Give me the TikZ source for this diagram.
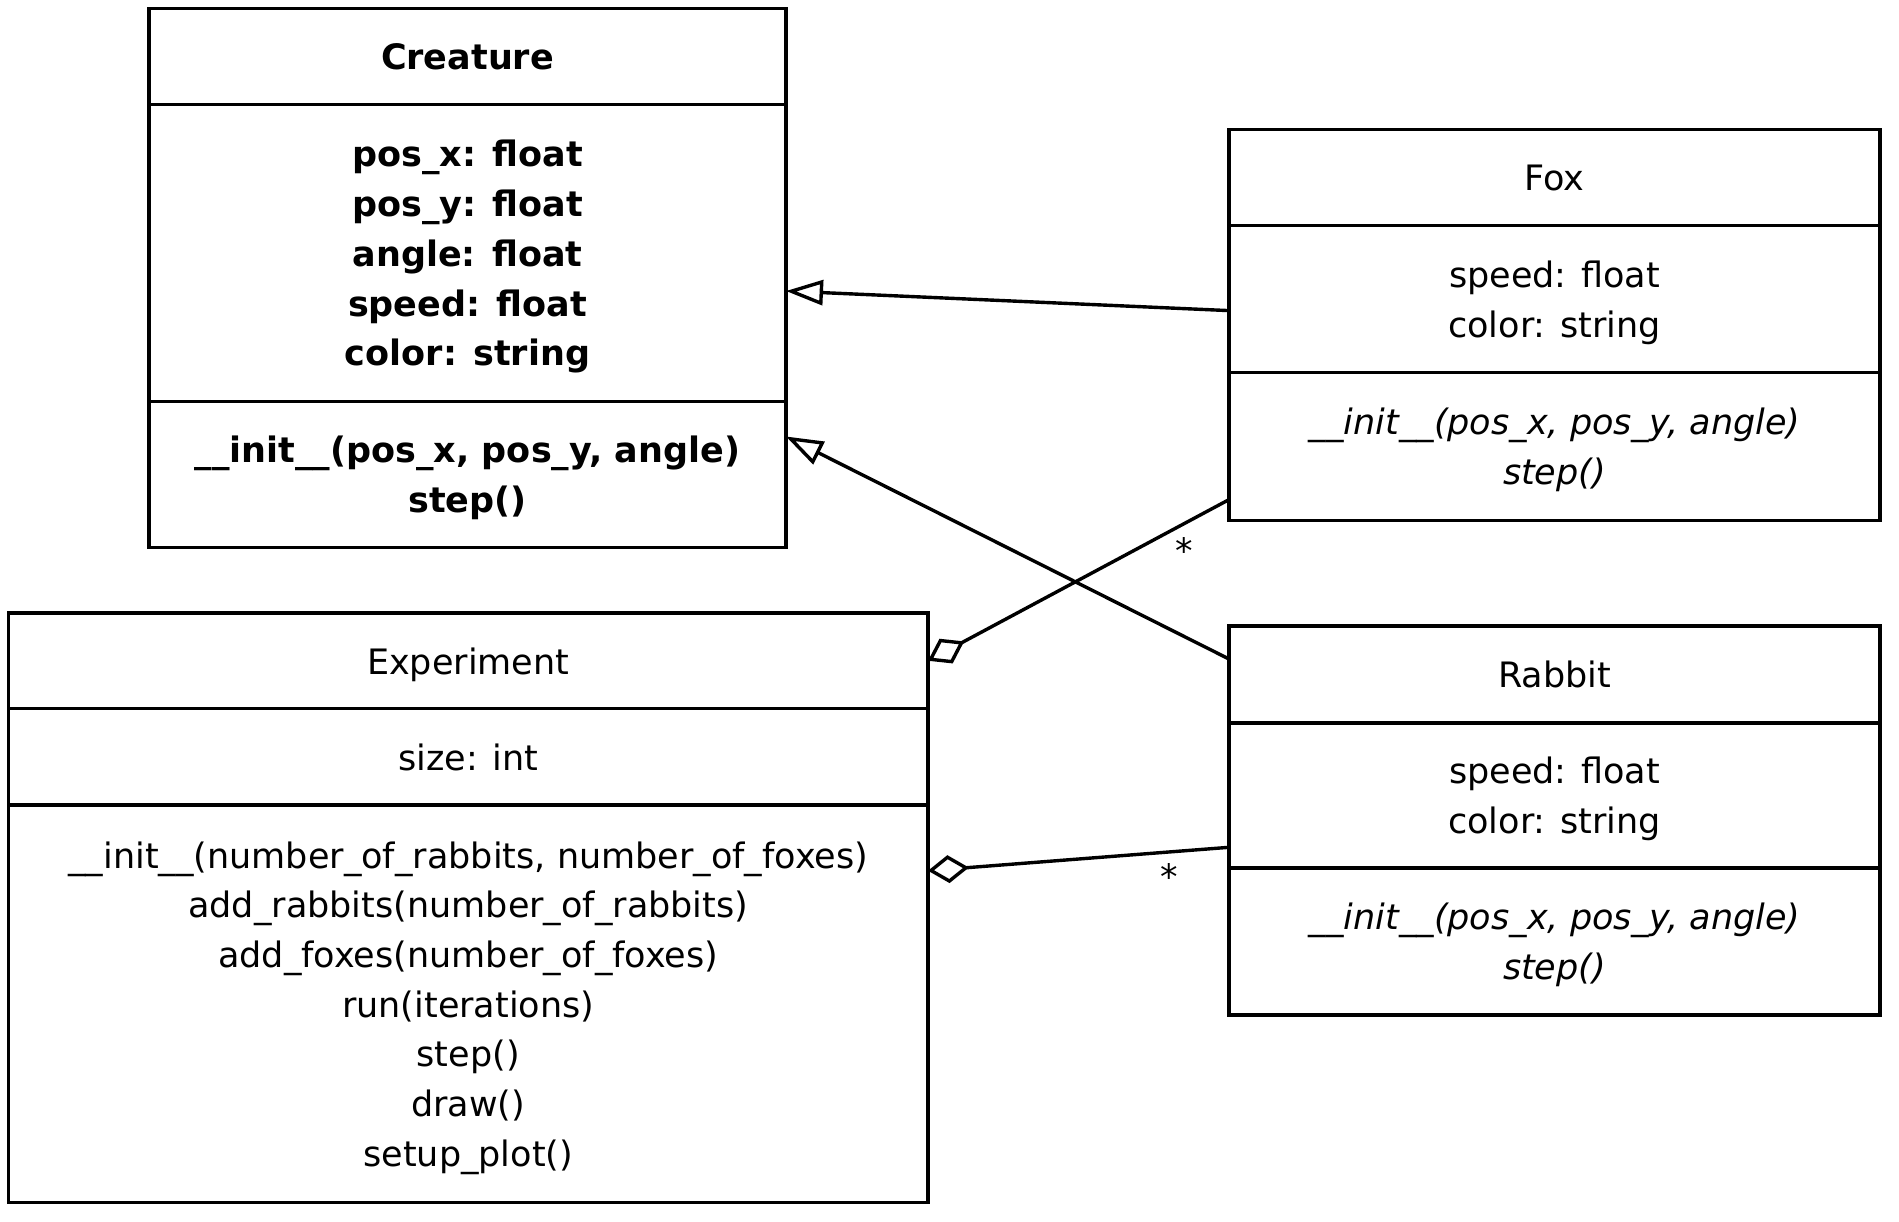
\documentclass[tikz,border=0pt]{standalone}
\usepackage{fontspec}
\setmainfont{DejaVu Sans}
\usetikzlibrary{arrows.meta, positioning}
\newcommand{\umlfont}{\fontsize{17.5pt}{24.85pt}\selectfont}

\begin{document}
\begin{tikzpicture}[
umlbox/.style={rectangle, draw=black, line width=1.7pt, inner sep=0pt,
outer sep=0pt, align=center, text depth=0pt, font=\umlfont},
classhead/.style={umlbox, minimum height=48pt},
inherit/.style={-{Triangle[open, length=18.5pt, width=12.5pt]}, line width=1.7pt},
aggr/.style={{Diamond[open, length=20.5pt, width=14pt]}-, line width=1.7pt},
mult/.style={inner sep=0pt, font=\umlfont}]
\useasboundingbox (0,0) rectangle (949.5pt,-610.5pt);
% Creature
\node[classhead, minimum width=318.5pt, anchor=north west, font=\umlfont\bfseries]
    (creature) at (74.5pt,-4.25pt) {Creature};
\node[umlbox, minimum width=318.5pt, minimum height=148.5pt, font=\umlfont\bfseries,
    below=0pt of creature] (creatureattr)
    {pos\_x: float\\pos\_y: float\\angle: float\\speed: float\\color: string};
\node[umlbox, minimum width=318.5pt, minimum height=73pt, font=\umlfont\bfseries,
    below=0pt of creatureattr] (creatureop)
    {\_\_init\_\_(pos\_x, pos\_y, angle)\\step()};
% Fox
\node[classhead, minimum width=325.5pt, anchor=north west]
    (fox) at (614.5pt,-64.8pt) {Fox};
\node[umlbox, minimum width=325.5pt, minimum height=73.5pt,
    below=0pt of fox] (foxattr) {speed: float\\color: string};
\node[umlbox, minimum width=325.5pt, minimum height=73.8pt, font=\umlfont\itshape,
    below=0pt of foxattr] (foxop) {\_\_init\_\_(pos\_x, pos\_y, angle)\\step()};
% Rabbit
\node[classhead, minimum width=325.5pt, minimum height=48.5pt, anchor=north west]
    (rabbit) at (614.5pt,-313pt) {Rabbit};
\node[umlbox, minimum width=325.5pt, minimum height=72.5pt,
    below=0pt of rabbit] (rabbitattr) {speed: float\\color: string};
\node[umlbox, minimum width=325.5pt, minimum height=73.5pt, font=\umlfont\itshape,
    below=0pt of rabbitattr] (rabbitop) {\_\_init\_\_(pos\_x, pos\_y, angle)\\step()};
% Experiment
\node[classhead, minimum width=459.75pt, minimum height=47.75pt, anchor=north west]
    (experiment) at (4.25pt,-306.5pt) {Experiment};
\node[umlbox, minimum width=459.75pt, minimum height=48.25pt,
    below=0pt of experiment] (experimentattr) {size: int};
\node[umlbox, minimum width=459.75pt, minimum height=198.8pt,
    below=0pt of experimentattr] (experimentop)
    {\_\_init\_\_(number\_of\_rabbits, number\_of\_foxes)\\
     add\_rabbits(number\_of\_rabbits)\\add\_foxes(number\_of\_foxes)\\
     run(iterations)\\step()\\draw()\\setup\_plot()};
% relations
\draw[inherit] ([yshift=-5.75pt]foxattr.west) -- ([yshift=-19pt]creatureattr.east);
\draw[inherit] ([yshift=7.75pt]rabbit.west) -- ([yshift=19pt]creatureop.east);
\draw[aggr] (experiment.east) -- ([yshift=10.3pt]foxop.south west)
    node[mult, pos=0.85, yshift=-13.5pt] (foxmult) {*};
\draw[aggr] ([yshift=-32.85pt]experimentop.north east) -- ([yshift=10.35pt]rabbitattr.south west)
    node[mult, pos=0.8, yshift=-12.5pt] (rabbitmult) {*};
\end{tikzpicture}
\end{document}
